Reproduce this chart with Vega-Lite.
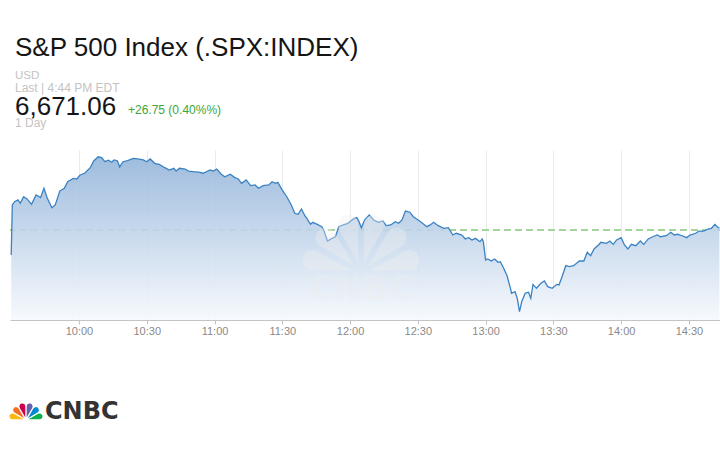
{
  "$schema": "https://vega.github.io/schema/vega-lite/v6.json",
  "width": 710,
  "height": 170,
  "autosize": {"type": "none"},
  "padding": {"left": 10, "top": 150, "right": 0, "bottom": 130},
  "background": "white",
  "config": {"view": {"stroke": null}, "font": "Liberation Sans"},
  "data": {
    "format": {"parse": {"t": "date:'%H:%M:%S'"}},
    "values": [
      {"t":"09:30:00","p":6654.1},{"t":"09:30:30","p":6688.4},{"t":"09:31:30","p":6690.6},{"t":"09:33:00","p":6691.8},
      {"t":"09:34:00","p":6689.5},{"t":"09:35:30","p":6694.0},{"t":"09:37:00","p":6692.5},{"t":"09:39:00","p":6688.8},
      {"t":"09:41:00","p":6695.2},{"t":"09:43:00","p":6693.4},{"t":"09:44:30","p":6699.8},{"t":"09:46:00","p":6692.9},
      {"t":"09:48:00","p":6686.5},{"t":"09:49:30","p":6688.4},{"t":"09:51:30","p":6697.9},{"t":"09:53:30","p":6699.8},
      {"t":"09:55:00","p":6704.3},{"t":"09:57:30","p":6706.6},{"t":"09:59:00","p":6706.2},{"t":"10:00:30","p":6708.9},
      {"t":"10:02:30","p":6710.1},{"t":"10:05:00","p":6713.9},{"t":"10:06:30","p":6718.5},{"t":"10:08:30","p":6721.4},
      {"t":"10:10:00","p":6720.8},{"t":"10:11:30","p":6718.0},{"t":"10:13:00","p":6719.0},{"t":"10:14:30","p":6717.6},
      {"t":"10:15:30","p":6719.2},{"t":"10:17:00","p":6718.7},{"t":"10:18:00","p":6714.4},{"t":"10:19:30","p":6718.0},
      {"t":"10:21:30","p":6718.7},{"t":"10:24:00","p":6720.3},{"t":"10:26:00","p":6719.9},{"t":"10:28:30","p":6719.2},
      {"t":"10:30:00","p":6718.0},{"t":"10:31:30","p":6719.9},{"t":"10:33:30","p":6716.9},{"t":"10:35:30","p":6716.2},
      {"t":"10:38:00","p":6713.9},{"t":"10:40:00","p":6712.3},{"t":"10:42:00","p":6713.5},{"t":"10:43:00","p":6711.6},
      {"t":"10:44:30","p":6713.5},{"t":"10:47:00","p":6713.0},{"t":"10:48:30","p":6711.6},{"t":"10:50:30","p":6711.2},
      {"t":"10:53:00","p":6710.8},{"t":"10:55:00","p":6710.1},{"t":"10:58:00","p":6712.3},{"t":"10:59:30","p":6711.6},
      {"t":"11:01:00","p":6713.0},{"t":"11:03:00","p":6709.4},{"t":"11:04:30","p":6707.7},{"t":"11:07:00","p":6709.4},
      {"t":"11:09:00","p":6707.1},{"t":"11:10:30","p":6706.2},{"t":"11:12:00","p":6703.2},{"t":"11:14:00","p":6705.5},
      {"t":"11:16:00","p":6701.6},{"t":"11:18:00","p":6702.1},{"t":"11:19:30","p":6699.8},{"t":"11:21:30","p":6701.6},
      {"t":"11:24:00","p":6702.1},{"t":"11:25:30","p":6704.3},{"t":"11:27:00","p":6703.2},{"t":"11:28:00","p":6703.9},
      {"t":"11:30:00","p":6698.6},{"t":"11:32:00","p":6694.0},{"t":"11:34:00","p":6688.4},{"t":"11:35:30","p":6682.7},
      {"t":"11:37:00","p":6682.0},{"t":"11:38:30","p":6685.6},{"t":"11:40:00","p":6681.0},{"t":"11:41:00","p":6678.8},
      {"t":"11:42:30","p":6675.1},{"t":"11:43:30","p":6676.5},{"t":"11:45:30","p":6675.1},{"t":"11:47:30","p":6673.5},
      {"t":"11:48:30","p":6670.5},{"t":"11:50:00","p":6663.7},{"t":"11:52:00","p":6665.5},{"t":"11:53:30","p":6666.6},
      {"t":"11:55:00","p":6673.5},{"t":"11:57:00","p":6674.7},{"t":"11:59:00","p":6675.8},{"t":"12:01:30","p":6678.8},
      {"t":"12:03:00","p":6679.7},{"t":"12:04:00","p":6676.9},{"t":"12:05:00","p":6672.8},{"t":"12:06:30","p":6678.1},
      {"t":"12:08:30","p":6681.5},{"t":"12:10:30","p":6678.1},{"t":"12:12:30","p":6676.5},{"t":"12:14:30","p":6677.4},
      {"t":"12:16:00","p":6674.2},{"t":"12:18:00","p":6674.7},{"t":"12:20:00","p":6676.9},{"t":"12:21:30","p":6675.8},
      {"t":"12:23:00","p":6678.1},{"t":"12:24:30","p":6684.2},{"t":"12:26:30","p":6683.4},{"t":"12:28:00","p":6680.3},
      {"t":"12:29:30","p":6678.8},{"t":"12:31:30","p":6676.5},{"t":"12:34:00","p":6673.5},{"t":"12:35:30","p":6674.7},
      {"t":"12:37:00","p":6676.5},{"t":"12:39:00","p":6674.2},{"t":"12:41:30","p":6672.4},{"t":"12:43:30","p":6672.8},
      {"t":"12:45:30","p":6667.8},{"t":"12:47:00","p":6669.0},{"t":"12:49:30","p":6667.8},{"t":"12:51:00","p":6665.1},
      {"t":"12:52:30","p":6666.0},{"t":"12:54:00","p":6664.4},{"t":"12:55:30","p":6665.5},{"t":"12:57:30","p":6663.2},
      {"t":"12:58:30","p":6665.1},{"t":"12:59:00","p":6663.2},{"t":"13:00:00","p":6650.7},{"t":"13:01:00","p":6651.4},
      {"t":"13:02:30","p":6650.0},{"t":"13:04:00","p":6651.4},{"t":"13:05:30","p":6649.1},{"t":"13:06:30","p":6649.5},
      {"t":"13:08:00","p":6645.0},{"t":"13:09:30","p":6639.9},{"t":"13:11:00","p":6631.3},{"t":"13:11:30","p":6627.9},
      {"t":"13:13:00","p":6629.0},{"t":"13:14:00","p":6624.5},{"t":"13:15:00","p":6615.3},{"t":"13:16:00","p":6622.1},
      {"t":"13:17:30","p":6627.9},{"t":"13:19:00","p":6628.6},{"t":"13:20:00","p":6624.5},{"t":"13:21:00","p":6634.0},
      {"t":"13:22:30","p":6631.3},{"t":"13:24:30","p":6634.7},{"t":"13:26:00","p":6636.3},{"t":"13:27:30","p":6632.4},
      {"t":"13:29:30","p":6631.3},{"t":"13:31:30","p":6634.0},{"t":"13:32:30","p":6633.6},{"t":"13:34:00","p":6639.9},
      {"t":"13:35:30","p":6646.8},{"t":"13:37:00","p":6646.1},{"t":"13:39:00","p":6646.8},{"t":"13:41:30","p":6650.0},
      {"t":"13:43:30","p":6650.0},{"t":"13:45:00","p":6656.0},{"t":"13:46:30","p":6653.6},{"t":"13:48:00","p":6658.2},
      {"t":"13:50:00","p":6661.0},{"t":"13:51:00","p":6662.8},{"t":"13:53:30","p":6662.1},{"t":"13:55:00","p":6663.7},
      {"t":"13:56:30","p":6661.4},{"t":"13:58:00","p":6664.4},{"t":"14:00:00","p":6666.0},{"t":"14:01:30","p":6661.0},
      {"t":"14:03:00","p":6658.2},{"t":"14:04:30","p":6661.4},{"t":"14:06:30","p":6660.5},{"t":"14:08:30","p":6663.7},
      {"t":"14:10:00","p":6661.4},{"t":"14:12:00","p":6665.1},{"t":"14:14:00","p":6666.6},{"t":"14:16:00","p":6667.8},
      {"t":"14:17:30","p":6666.6},{"t":"14:20:00","p":6667.3},{"t":"14:22:00","p":6669.7},{"t":"14:23:30","p":6667.8},
      {"t":"14:25:00","p":6668.3},{"t":"14:27:00","p":6667.3},{"t":"14:29:00","p":6666.0},{"t":"14:30:30","p":6667.8},
      {"t":"14:33:00","p":6669.0},{"t":"14:34:30","p":6670.5},{"t":"14:36:30","p":6670.5},{"t":"14:38:30","p":6671.9},
      {"t":"14:40:00","p":6672.4},{"t":"14:41:30","p":6675.1},{"t":"14:42:30","p":6673.5},{"t":"14:43:30","p":6672.4}
    ]
  },
  "layer": [
    {
      "mark": {"type": "rule", "color": "#a2d59b", "strokeDash": [7, 4], "strokeWidth": 1},
      "encoding": {"y": {"datum": 6671.06, "type": "quantitative", "axis": null}}
    },
    {
      "encoding": {
        "x": {
          "field": "t", "type": "temporal",
          "scale": {"domain": [
            {"year": 1900, "month": 1, "date": 1, "hours": 9, "minutes": 29, "seconds": 28},
            {"year": 1900, "month": 1, "date": 1, "hours": 14, "minutes": 43, "seconds": 46}
          ]},
          "axis": {
            "title": null, "format": "%H:%M",
            "values": [
              {"year": 1900, "month": 1, "date": 1, "hours": 10, "minutes": 0},
              {"year": 1900, "month": 1, "date": 1, "hours": 10, "minutes": 30},
              {"year": 1900, "month": 1, "date": 1, "hours": 11, "minutes": 0},
              {"year": 1900, "month": 1, "date": 1, "hours": 11, "minutes": 30},
              {"year": 1900, "month": 1, "date": 1, "hours": 12, "minutes": 0},
              {"year": 1900, "month": 1, "date": 1, "hours": 12, "minutes": 30},
              {"year": 1900, "month": 1, "date": 1, "hours": 13, "minutes": 0},
              {"year": 1900, "month": 1, "date": 1, "hours": 13, "minutes": 30},
              {"year": 1900, "month": 1, "date": 1, "hours": 14, "minutes": 0},
              {"year": 1900, "month": 1, "date": 1, "hours": 14, "minutes": 30}
            ],
            "grid": true, "gridColor": "#ebebeb", "gridWidth": 1,
            "domainColor": "#c4c4c4", "tickColor": "#c4c4c4", "tickSize": 4,
            "labelColor": "#8a8a8a", "labelFontSize": 11, "labelPadding": 1,
            "labelFont": "Liberation Sans"
          }
        },
        "y": {
          "field": "p", "type": "quantitative",
          "scale": {"domain": [6609.59, 6726.02], "zero": false, "nice": false},
          "axis": {
            "title": null, "values": [6650, 6700], "labels": false, "ticks": false,
            "domain": false, "grid": true, "gridColor": "#f0f0f0"
          }
        }
      },
      "layer": [
        {
          "mark": {
            "type": "area", "fillOpacity": 0.9,
            "color": {
              "gradient": "linear", "x1": 0, "y1": 0, "x2": 0, "y2": 1,
              "stops": [{"offset": 0, "color": "#94b5da"}, {"offset": 1, "color": "#f6f9fd"}]
            }
          },
          "encoding": {"y2": {"datum": 6609.59}}
        },
        {"mark": {"type": "line", "color": "#3a82c3", "strokeWidth": 1.3}}
      ]
    },
    {
      "data": {"values": [
        {"feather": "yellow", "n": 1, "k": 1}, {"feather": "orange", "n": 1, "k": 2},
        {"feather": "red", "n": 1, "k": 3}, {"feather": "purple", "n": 1, "k": 4},
        {"feather": "blue", "n": 1, "k": 5}, {"feather": "green", "n": 1, "k": 6}
      ]},
      "layer": [
        {
          "mark": {"type": "arc", "outerRadius": 60, "innerRadius": 10, "padAngle": 0.1, "cornerRadius": 14, "color": "#eeeeee", "opacity": 0.38},
          "encoding": {
            "theta": {"field": "n", "type": "quantitative", "stack": true, "scale": {"range": [-1.5708, 1.5708]}},
            "order": {"field": "k"},
            "x": {"value": 351}, "y": {"value": 123}
          }
        },
        {
          "mark": {"type": "arc", "outerRadius": 17, "innerRadius": 3, "padAngle": 0.08, "cornerRadius": 3},
          "encoding": {
            "theta": {"field": "n", "type": "quantitative", "stack": true, "scale": {"range": [-1.5708, 1.5708]}},
            "order": {"field": "k"},
            "color": {
              "field": "feather", "type": "nominal", "legend": null,
              "scale": {"domain": ["yellow", "orange", "red", "purple", "blue", "green"],
                        "range": ["#fcb711", "#f37021", "#cc004c", "#6460aa", "#0089d0", "#0db14b"]}
            },
            "x": {"value": 16}, "y": {"value": 270}
          }
        }
      ]
    },
    {
      "data": {"values": [{}]},
      "layer": [
        {"mark": {"type": "text", "text": "CNBC", "x": 351, "y": 150, "align": "center", "baseline": "alphabetic", "font": "DejaVu Sans", "fontWeight": "bold", "fontSize": 34, "color": "#eeeeee", "opacity": 0.38}},
        {"mark": {"type": "text", "text": "S&P 500 Index (.SPX:INDEX)", "x": 5, "y": -94, "align": "left", "baseline": "alphabetic", "fontSize": 26, "color": "#151515"}},
        {"mark": {"type": "text", "text": "USD", "x": 5, "y": -71, "align": "left", "baseline": "alphabetic", "fontSize": 11.5, "color": "#c4c4c4"}},
        {"mark": {"type": "text", "text": "Last | 4:44 PM EDT", "x": 5, "y": -58, "align": "left", "baseline": "alphabetic", "fontSize": 12, "color": "#c4c4c4"}},
        {"mark": {"type": "text", "text": "6,671.06", "x": 5, "y": -35, "align": "left", "baseline": "alphabetic", "fontSize": 26, "color": "#151515"}},
        {"mark": {"type": "text", "text": "+26.75 (0.40%%)", "x": 118, "y": -36, "align": "left", "baseline": "alphabetic", "fontSize": 12, "color": "#3aa63a"}},
        {"mark": {"type": "text", "text": "1 Day", "x": 5, "y": -23.5, "align": "left", "baseline": "alphabetic", "fontSize": 12, "color": "#c4c4c4"}},
        {"mark": {"type": "text", "text": "CNBC", "x": 35, "y": 269, "align": "left", "baseline": "alphabetic", "font": "DejaVu Sans", "fontWeight": "bold", "fontSize": 24, "color": "#333333"}}
      ]
    }
  ]
}
